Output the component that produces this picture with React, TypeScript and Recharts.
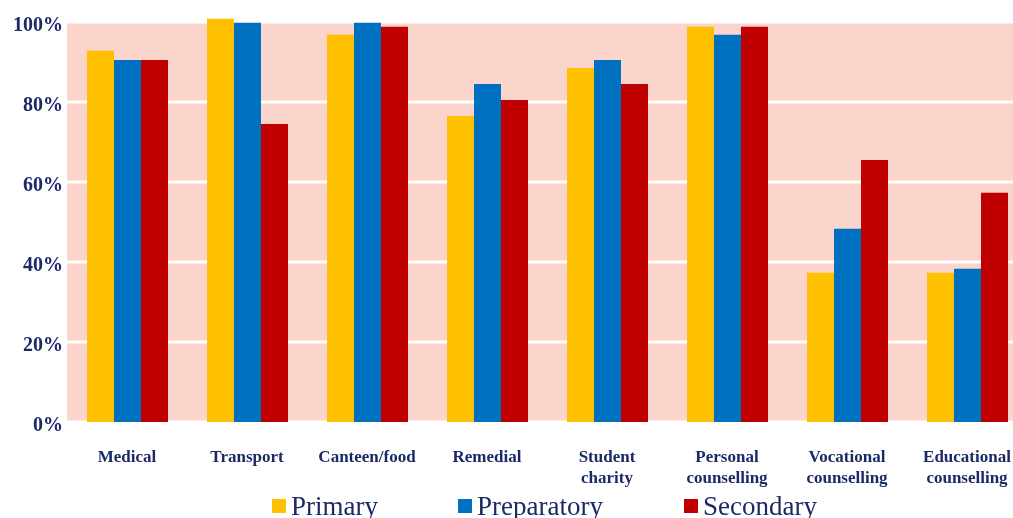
import { BarChart, Bar, XAxis, YAxis, CartesianGrid } from "recharts";

const CATEGORIES = [
  "Medical",
  "Transport",
  "Canteen/food",
  "Remedial",
  "Student charity",
  "Personal counselling",
  "Vocational counselling",
  "Educational counselling",
];
const PRIMARY = [92.8, 100.8, 96.8, 76.5, 88.5, 98.8, 37.3, 37.3];
const PREPARATORY = [90.5, 99.8, 99.8, 84.5, 90.5, 96.8, 48.3, 38.3];
const SECONDARY = [90.5, 74.5, 98.8, 80.5, 84.5, 98.8, 65.5, 57.3];
const Y_TICKS = [0, 20, 40, 60, 80, 100];

const SERIES = [
  { key: "primary", name: "Primary", color: "#FFC000" },
  { key: "preparatory", name: "Preparatory", color: "#0070C0" },
  { key: "secondary", name: "Secondary", color: "#C00000" },
];
const LEGEND_LEFT = [264, 450, 676];

const NAVY = "#1B2A66";
const FONT = "'Liberation Serif', 'Times New Roman', serif";

const data = CATEGORIES.map((name, i) => ({
  name,
  primary: PRIMARY[i],
  preparatory: PREPARATORY[i],
  secondary: SECONDARY[i],
}));

function CategoryTick({ x, y, payload }: any) {
  const lines = String(payload.value).split(" ");
  return (
    <text
      x={x}
      y={y}
      textAnchor="middle"
      fill={NAVY}
      fontFamily={FONT}
      fontWeight="bold"
      fontSize={17}
    >
      {lines.map((l, i) => (
        <tspan key={i} x={x} dy={i === 0 ? 32 : 21}>
          {l}
        </tspan>
      ))}
    </text>
  );
}

function PercentTick({ x, y, payload }: any) {
  return (
    <text
      x={x}
      y={y}
      dy={9}
      textAnchor="end"
      fill={NAVY}
      fontFamily={FONT}
      fontWeight="bold"
      fontSize={20}
    >
      {`${payload.value}%`}
    </text>
  );
}

export default function App() {
  return (
    <div style={{ position: "fixed", top: 8, left: 8, width: 1005, height: 510, overflow: "hidden" }}>
      <BarChart
        width={1019}
        height={510}
        data={data}
        margin={{ top: 6, right: 0, left: 0, bottom: 0 }}
        barCategoryGap={20}
        barGap={0}
      >
        <CartesianGrid
          vertical={false}
          stroke="#FFFFFF"
          strokeWidth={3}
          horizontalFill={["none", "#FBD5CC", "#FBD5CC", "#FBD5CC", "#FBD5CC", "#FBD5CC"]}
        />
        <XAxis
          dataKey="name"
          axisLine={false}
          tickLine={false}
          height={96}
          interval={0}
          tick={<CategoryTick />}
        />
        <YAxis
          width={59}
          domain={[0, 102]}
          ticks={Y_TICKS}
          axisLine={false}
          tickLine={false}
          tickSize={2}
          tickMargin={2}
          tick={<PercentTick />}
        />
        {SERIES.map((s) => (
          <Bar key={s.key} dataKey={s.key} name={s.name} fill={s.color} isAnimationActive={false} />
        ))}
      </BarChart>
      {SERIES.map((s, i) => (
        <div
          key={s.key}
          style={{
            position: "absolute",
            top: 483,
            left: LEGEND_LEFT[i],
            display: "flex",
            alignItems: "center",
            fontFamily: FONT,
            fontSize: 27,
            color: NAVY,
            lineHeight: "30px",
            whiteSpace: "nowrap",
          }}
        >
          <span style={{ width: 14, height: 14, background: s.color, marginRight: 5, display: "inline-block" }} />
          <span>{s.name}</span>
        </div>
      ))}
    </div>
  );
}
